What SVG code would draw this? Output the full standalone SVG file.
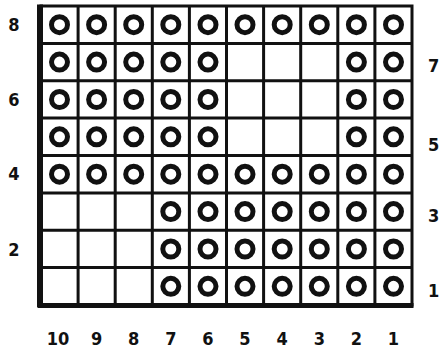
<svg xmlns="http://www.w3.org/2000/svg" width="440" height="354" viewBox="0 0 440 354">
<style>
.lbl{font-family:"DejaVu Sans Condensed","DejaVu Sans","Liberation Sans",sans-serif;font-weight:bold;font-size:18px;fill:#111}
.grid{stroke:#111;stroke-width:3;fill:none}
.ring{fill:none;stroke:#111;stroke-width:5}
</style>
<defs>
<circle id="r" r="8" class="ring"/>
</defs>
<rect width="440" height="354" fill="#fff"/>
<g id="connectors">
<g class="grid">
<path d="M78.1 6V305M115.2 6V305M152.3 6V305M189.4 6V305M226.5 6V305M263.6 6V305M300.7 6V305M337.8 6V305M374.9 6V305"/>
<path d="M41 43.4H412M41 80.8H412M41 118.1H412M41 155.5H412M41 192.9H412M41 230.3H412M41 267.6H412"/>
<rect x="41" y="6" width="371" height="299"/>
</g>
<path d="M40 4.5V307.5" stroke="#111" stroke-width="6"/>
<path d="M38 305.5H413.5" stroke="#111" stroke-width="5"/>
</g>
<g id="circles">
<g id="row8">
<use href="#r" x="59.5" y="24.7"/><use href="#r" x="96.6" y="24.7"/><use href="#r" x="133.7" y="24.7"/><use href="#r" x="170.8" y="24.7"/><use href="#r" x="208" y="24.7"/><use href="#r" x="245" y="24.7"/><use href="#r" x="282.2" y="24.7"/><use href="#r" x="319.3" y="24.7"/><use href="#r" x="356.4" y="24.7"/><use href="#r" x="393.5" y="24.7"/>
</g>
<g id="row7">
<use href="#r" x="59.5" y="62.1"/><use href="#r" x="96.6" y="62.1"/><use href="#r" x="133.7" y="62.1"/><use href="#r" x="170.8" y="62.1"/><use href="#r" x="208" y="62.1"/><use href="#r" x="356.4" y="62.1"/><use href="#r" x="393.5" y="62.1"/>
</g>
<g id="row6">
<use href="#r" x="59.5" y="99.5"/><use href="#r" x="96.6" y="99.5"/><use href="#r" x="133.7" y="99.5"/><use href="#r" x="170.8" y="99.5"/><use href="#r" x="208" y="99.5"/><use href="#r" x="356.4" y="99.5"/><use href="#r" x="393.5" y="99.5"/>
</g>
<g id="row5">
<use href="#r" x="59.5" y="136.8"/><use href="#r" x="96.6" y="136.8"/><use href="#r" x="133.7" y="136.8"/><use href="#r" x="170.8" y="136.8"/><use href="#r" x="208" y="136.8"/><use href="#r" x="356.4" y="136.8"/><use href="#r" x="393.5" y="136.8"/>
</g>
<g id="row4">
<use href="#r" x="59.5" y="174.2"/><use href="#r" x="96.6" y="174.2"/><use href="#r" x="133.7" y="174.2"/><use href="#r" x="170.8" y="174.2"/><use href="#r" x="208" y="174.2"/><use href="#r" x="245" y="174.2"/><use href="#r" x="282.2" y="174.2"/><use href="#r" x="319.3" y="174.2"/><use href="#r" x="356.4" y="174.2"/><use href="#r" x="393.5" y="174.2"/>
</g>
<g id="row3">
<use href="#r" x="170.8" y="211.6"/><use href="#r" x="208" y="211.6"/><use href="#r" x="245" y="211.6"/><use href="#r" x="282.2" y="211.6"/><use href="#r" x="319.3" y="211.6"/><use href="#r" x="356.4" y="211.6"/><use href="#r" x="393.5" y="211.6"/>
</g>
<g id="row2">
<use href="#r" x="170.8" y="249"/><use href="#r" x="208" y="249"/><use href="#r" x="245" y="249"/><use href="#r" x="282.2" y="249"/><use href="#r" x="319.3" y="249"/><use href="#r" x="356.4" y="249"/><use href="#r" x="393.5" y="249"/>
</g>
<g id="row1">
<use href="#r" x="170.8" y="286.3"/><use href="#r" x="208" y="286.3"/><use href="#r" x="245" y="286.3"/><use href="#r" x="282.2" y="286.3"/><use href="#r" x="319.3" y="286.3"/><use href="#r" x="356.4" y="286.3"/><use href="#r" x="393.5" y="286.3"/>
</g>
</g>
<g id="labels-left" class="lbl" text-anchor="middle">
<text x="14" y="31">8</text>
<text x="14" y="106">6</text>
<text x="14" y="180">4</text>
<text x="14" y="256">2</text>
</g>
<g id="labels-right" class="lbl">
<text x="428" y="72">7</text>
<text x="428" y="151">5</text>
<text x="428" y="222">3</text>
<text x="428" y="297">1</text>
</g>
<g id="labels-bottom" class="lbl" text-anchor="middle">
<text x="58" y="345">10</text>
<text x="96.6" y="345">9</text>
<text x="133.7" y="345">8</text>
<text x="170.8" y="345">7</text>
<text x="208" y="345">6</text>
<text x="245" y="345">5</text>
<text x="282.2" y="345">4</text>
<text x="319.3" y="345">3</text>
<text x="356.4" y="345">2</text>
<text x="393.5" y="345">1</text>
</g>
</svg>
